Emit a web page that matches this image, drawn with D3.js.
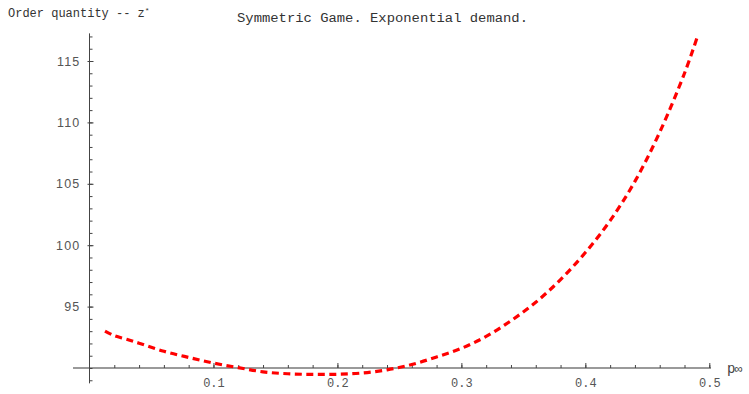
<!DOCTYPE html>
<html>
<head>
<meta charset="utf-8">
<script src="https://cdn.jsdelivr.net/npm/d3@7"></script>
<style>
  html, body { margin: 0; padding: 0; background: #fff; }
  svg { display: block; }
</style>
</head>
<body>
<svg id="chart" width="749" height="394"></svg>
<script>
// Equilibrium order quantity z* against p∞ (symmetric game, exponential demand)
const pValues = [0.0125, 0.02, 0.03, 0.04, 0.06, 0.08, 0.10, 0.12, 0.14, 0.16, 0.18, 0.20,
                 0.22, 0.24, 0.26, 0.28, 0.30, 0.32, 0.34, 0.36, 0.38, 0.40, 0.42, 0.44,
                 0.46, 0.48, 0.49];
const zValues = [93.0, 92.63, 92.34, 92.02, 91.36, 90.86, 90.40, 90.03, 89.69, 89.53, 89.48, 89.49,
                 89.59, 89.85, 90.28, 90.90, 91.60, 92.57, 93.85, 95.35, 97.2, 99.4, 102.0, 105.2,
                 109.2, 114.0, 116.86];

const xMajorTicks = [0.1, 0.2, 0.3, 0.4, 0.5];
const xMinorTicks = d3.range(1, 26).map(i => i * 0.02);
const yMajorTicks = [95, 100, 105, 110, 115];
const yMinorTicks = d3.range(89, 118);

const titleText = "Symmetric Game. Exponential demand.";
const yLabelText = "Order quantity -- z";
const xLabelText = "p";

const svg = d3.select("#chart");

const x = d3.scaleLinear().domain([0, 0.5]).range([89.5, 709.3]);
const y = d3.scaleLinear().domain([90, 115]).range([368, 61]);

// axis lines
svg.append("line")
  .attr("x1", 73).attr("x2", 711)
  .attr("y1", y(90)).attr("y2", y(90))
  .attr("stroke", "#9a9a9a").attr("stroke-width", 2);
svg.append("line")
  .attr("x1", x(0)).attr("x2", x(0))
  .attr("y1", y(117.25)).attr("y2", y(88.75))
  .attr("stroke", "#444").attr("stroke-width", 1);

// y axis: minor ticks
svg.append("g")
  .attr("transform", `translate(${x(0)},0)`)
  .call(d3.axisRight(y).tickValues(yMinorTicks).tickSize(3).tickFormat(""))
  .call(g => g.select(".domain").remove())
  .call(g => g.selectAll(".tick line").attr("stroke", "#444"));

// y axis: major ticks with labels
svg.append("g")
  .attr("transform", `translate(${x(0)},0)`)
  .call(d3.axisLeft(y).tickValues(yMajorTicks).tickSizeInner(-4).tickSizeOuter(0).tickPadding(9))
  .call(g => g.select(".domain").remove())
  .call(g => g.selectAll(".tick line").attr("x1", -2).attr("stroke", "#444"))
  .call(g => g.selectAll(".tick text")
    .attr("fill", "#555")
    .style("font-family", "'Liberation Sans', Arial, sans-serif")
    .style("font-size", "12.5px")
    .style("letter-spacing", "1.2px"));

// x axis: minor ticks
svg.append("g")
  .attr("transform", `translate(0,${y(90)})`)
  .call(d3.axisTop(x).tickValues(xMinorTicks).tickSize(3).tickFormat(""))
  .call(g => g.select(".domain").remove())
  .call(g => g.selectAll(".tick line").attr("stroke", "#444"));

// x axis: major ticks with labels
svg.append("g")
  .attr("transform", `translate(0,${y(90)})`)
  .call(d3.axisBottom(x).tickValues(xMajorTicks).tickSizeInner(-5).tickSizeOuter(0).tickPadding(10)
        .tickFormat(d3.format(".1f")))
  .call(g => g.select(".domain").remove())
  .call(g => g.selectAll(".tick line").attr("stroke", "#444"))
  .call(g => g.selectAll(".tick text")
    .attr("fill", "#555")
    .style("font-family", "'Liberation Mono', 'Courier New', monospace")
    .style("font-size", "12px"));

// curve
const line = d3.line()
  .x((d, i) => x(pValues[i]))
  .y(d => y(d))
  .curve(d3.curveCatmullRom.alpha(0.5));

svg.append("path")
  .datum(zValues)
  .attr("d", line)
  .attr("fill", "none")
  .attr("stroke", "#ff0000")
  .attr("stroke-width", 3.2)
  .attr("stroke-dasharray", "7,4.5")
  .attr("stroke-linecap", "butt");

// texts
const mono = "'Liberation Mono', 'Courier New', monospace";

const yl = svg.append("text")
  .attr("x", 8).attr("y", 17)
  .attr("fill", "#333")
  .style("font-family", mono)
  .style("font-size", "12px");
yl.append("tspan").text(yLabelText);
yl.append("tspan").attr("dy", -4).style("font-size", "8px").text("*");

svg.append("text")
  .attr("x", 237).attr("y", 22)
  .attr("fill", "#333")
  .attr("textLength", 291)
  .attr("lengthAdjust", "spacingAndGlyphs")
  .style("font-family", mono)
  .style("font-size", "12px")
  .text(titleText);

const xl = svg.append("text")
  .attr("x", 727).attr("y", 373)
  .attr("fill", "#444")
  .style("font-family", mono)
  .style("font-size", "14px");
xl.append("tspan").text(xLabelText);
xl.append("tspan").attr("dx", -1).style("font-size", "13px").text("∞");
</script>
</body>
</html>
